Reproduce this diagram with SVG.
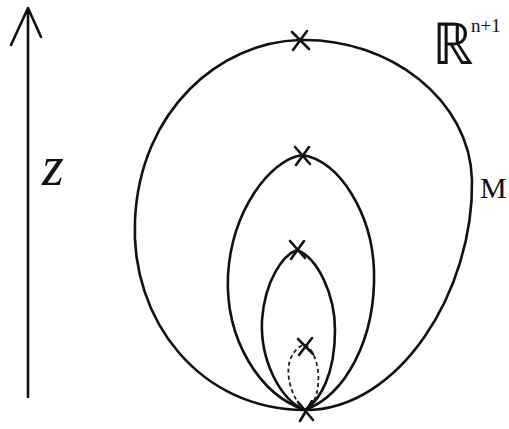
<svg xmlns="http://www.w3.org/2000/svg" width="509" height="429" viewBox="0 0 509 429">
<style>
.c{fill:none;stroke:#111;stroke-width:2.6;stroke-linecap:round;stroke-linejoin:round}
.d{fill:none;stroke:#222;stroke-width:1.8;stroke-dasharray:4 3}
.t{font-family:"Liberation Serif",serif;fill:#111}
</style>
<rect width="509" height="429" fill="#fff"/>
<g id="axis">
<path class="c" d="M28 397 L28 8 M28 8 L11 45 M28 8 L41 37"/>
<text class="t" x="42" y="185" font-size="56" font-style="italic">z</text>
</g>
<g id="labels">
<text class="t" x="432" y="64" font-size="58" font-family="DejaVu Sans, sans-serif">ℝ</text>
<text class="t" x="471" y="32" font-size="19">n+1</text>
<text class="t" x="480" y="198" font-size="30">M</text>
</g>
<g id="connectors">
<path id="outer" class="c" d="M305 410 C200 410,130 320,135 220 C140 110,220 42,300 40 C390 38,470 100,472 180 C474 290,400 410,305 410"/>
<path id="middle" class="c" d="M305 410 C260 395,225 340,228 275 C232 210,270 160,302 155 C340 160,372 215,374 270 C376 340,345 395,305 410"/>
<path id="inner" class="c" d="M305 410 C280 400,260 360,262 320 C265 280,283 255,297 250 C318 258,335 295,335 330 C335 375,320 400,305 410"/>
<path id="dashed" class="d" d="M305 410 C292 400,285 375,290 360 C294 350,300 345,305 345 C315 350,320 370,318 385 C317 400,310 408,305 410"/>
</g>
<g id="marks" class="c">
<path d="M292 32 L309 49 M307 31 L293 50"/>
<path d="M295 147 L310 164 M309 147 L296 165"/>
<path d="M290 241 L305 258 M304 241 L291 259"/>
<path d="M298 339 L313 354 M312 338 L299 355"/>
<path d="M298 402 L313 420 M312 401 L300 421"/>
</g>
</svg>
